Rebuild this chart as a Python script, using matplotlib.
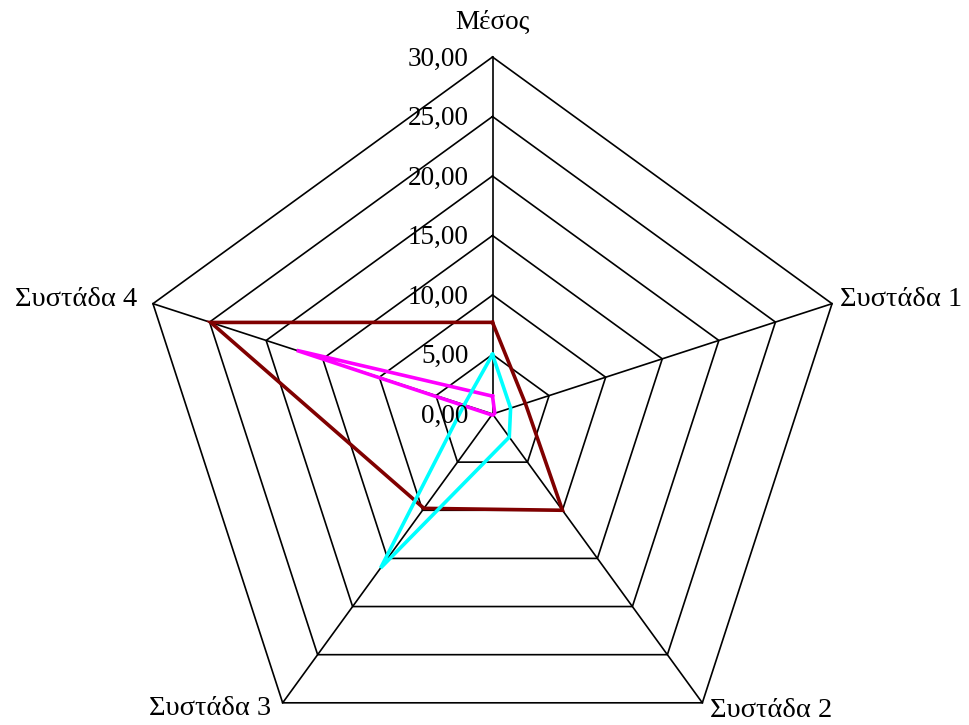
import numpy as np
import matplotlib
matplotlib.use("Agg")
import matplotlib.pyplot as plt

plt.rcParams['font.family'] = ['Liberation Serif', 'DejaVu Serif']

categories = ["Μέσος", "Συστάδα 1", "Συστάδα 2", "Συστάδα 3", "Συστάδα 4"]
series_brown = [7.7, 2.9, 10.0, 9.8, 24.9]
series_magenta = [1.5, 0.2, 0.1, 0.1, 17.3]
series_cyan = [5.0, 1.6, 2.4, 16.0, 2.5]
ring_values = [5, 10, 15, 20, 25, 30]
tick_values = [0, 5, 10, 15, 20, 25, 30]

# pixels per data unit, so the axes can span the whole figure
PX = 357 / 30.0

n = len(categories)
angles = np.deg2rad(90 - 72 * np.arange(n))


def to_xy(values):
    vals = np.asarray(values, dtype=float)
    x = vals * np.cos(angles)
    y = vals * np.sin(angles)
    # close the polygon
    return np.append(x, x[0]), np.append(y, y[0])


fig = plt.figure(figsize=(9.69, 7.25), dpi=100)
ax = fig.add_axes([0, 0, 1, 1])
ax.set_xlim(-492.5 / PX, 476.5 / PX)
ax.set_ylim(-311 / PX, 414 / PX)
ax.axis('off')

# pentagon rings
for r in ring_values:
    x, y = to_xy([r] * n)
    ax.plot(x, y, color='black', lw=1.2, zorder=1)

# spokes
for a in angles:
    ax.plot([0, 30 * np.cos(a)], [0, 30 * np.sin(a)], color='black', lw=1.2, zorder=1)

# data series
for vals, col in [(series_brown, '#800000'), (series_magenta, '#FF00FF'), (series_cyan, '#00FFFF')]:
    x, y = to_xy(vals)
    ax.plot(x, y, color=col, lw=2.6, solid_joinstyle='miter', zorder=3)

# value labels along the top axis
for v in tick_values:
    ax.annotate(f"{v:.2f}".replace('.', ','), xy=(0, v), xytext=(-24, -2),
                textcoords='offset pixels', ha='right', va='center', fontsize=19.5, zorder=4)

# category labels at the outer corners
offsets = [(0, 35, 'center', 19.5), (8, 4, 'left', 20.5), (8, -8, 'left', 20.5),
           (-12, -6, 'right', 20.5), (-16, 4, 'right', 20.5)]
for cat, a, (dx, dy, ha, fs) in zip(categories, angles, offsets):
    ax.annotate(cat, xy=(30 * np.cos(a), 30 * np.sin(a)), xytext=(dx, dy),
                textcoords='offset pixels', ha=ha, va='center', fontsize=fs)

plt.savefig("out.png", dpi=100)
